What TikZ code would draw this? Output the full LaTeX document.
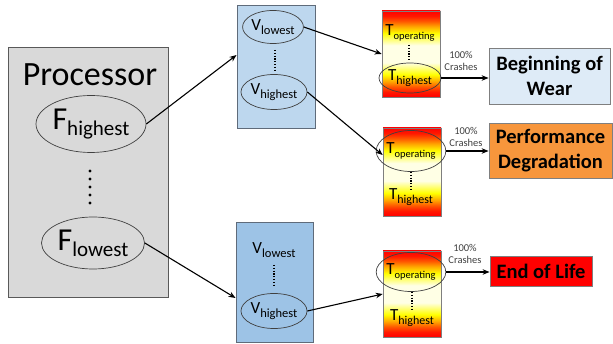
\documentclass[tikz,border=0pt]{standalone}
\usepackage{fontspec}
\setmainfont{Carlito}
\usetikzlibrary{arrows.meta,shapes.geometric}
\definecolor{procfill}{HTML}{D9D9D9}
\definecolor{procline}{HTML}{595959}
\definecolor{blueA}{HTML}{BDD7EE}
\definecolor{blueB}{HTML}{9DC3E6}
\definecolor{blueline}{HTML}{5F6B7A}
\definecolor{wearfill}{HTML}{DEEBF7}
\definecolor{perffill}{HTML}{F7963C}
\definecolor{boxline}{HTML}{7F7F7F}
\definecolor{lblgray}{HTML}{404040}
\pgfdeclareverticalshading{heat}{100bp}{color(0bp)=(red); color(25bp)=(red); color(28bp)=(red!90!yellow); color(31bp)=(red!65!yellow); color(34bp)=(red!35!yellow); color(38bp)=(yellow); color(45bp)=(yellow!10!white); color(55bp)=(yellow!10!white); color(62bp)=(yellow); color(66bp)=(red!35!yellow); color(69bp)=(red!65!yellow); color(72bp)=(red!90!yellow); color(75bp)=(red); color(100bp)=(red)}
\newcommand\sym[5]{{\fontsize{#1}{#1}\selectfont #2}\raisebox{-#5}{\fontsize{#3}{#3}\selectfont #4}}
\tikzset{
  box/.style={draw, inner sep=0pt},
  procbox/.style={box, fill=procfill, draw=procline, line width=1pt},
  bluebox/.style={box, draw=blueline, line width=0.9pt},
  heatbox/.style={box, draw=boxline, line width=0.6pt, shading=heat},
  ell/.style={ellipse, draw=lblgray, line width=0.7pt, inner sep=0pt},
  plain/.style={inner sep=0pt},
  result/.style={box, draw=boxline, line width=0.8pt, align=center, font=\fontsize{20.5}{25}\selectfont\bfseries},
  crash/.style={plain, align=center, text=lblgray, font=\fontsize{10.5}{12.5}\selectfont},
  arr/.style={-{Stealth[length=7pt,width=5.5pt]}, line width=1.1pt, black},
  vdots/.style={line width=1.3pt, dash pattern=on 1.3pt off 1.5pt, line cap=butt}
}
\begin{document}
\begin{tikzpicture}[x=1pt,y=-1pt]
\useasboundingbox (0,0) rectangle (613,344);
% processor
\node[procbox, minimum width=160pt, minimum height=250pt] (proc) at (88,173) {};
\node[plain, font=\fontsize{34}{34}\selectfont] (ptxt) at (90,75) {Processor};
\node[ell, minimum width=110pt, minimum height=57pt] (fh) at (91,124) {\sym{32}{F}{21}{highest}{6pt}};
\node[ell, minimum width=103pt, minimum height=52pt] (fl) at (93,243) {\sym{32}{F}{21}{lowest}{6pt}};
\foreach \yy in {171,179,187,195,203} \fill (90,\yy) circle (1.7);
% blue boxes
\node[bluebox, fill=blueA, minimum width=78pt, minimum height=123pt] (bb1) at (276,66.5) {};
\node[ell, minimum width=57pt, minimum height=33pt] (vl1) at (273,27) {\sym{17}{V}{12.5}{lowest}{4pt}};
\node[ell, minimum width=58pt, minimum height=35pt] (vh1) at (274,92) {\sym{17}{V}{12.5}{highest}{4pt}};
\draw[vdots] (275,50) -- (275,71);
\node[bluebox, fill=blueB, minimum width=77pt, minimum height=120pt] (bb2) at (274.5,282) {};
\node[plain] (vl2) at (274,250) {\sym{17}{V}{12.5}{lowest}{4pt}};
\node[ell, minimum width=66pt, minimum height=35pt] (vh2) at (274,311) {\sym{17}{V}{12.5}{highest}{4pt}};
\draw[vdots] (274,265) -- (274,286);
% heat boxes
\node[heatbox, minimum width=58pt, minimum height=86pt] (tb1) at (411,54) {};
\node[plain] (to1) at (410,33) {\sym{17}{T}{10.5}{operating}{4pt}};
\draw[vdots] (409,45) -- (409,61);
\node[ell, minimum width=46pt, minimum height=30pt] (th1) at (410,78) {\sym{17}{T}{12}{highest}{4pt}};
\node[heatbox, minimum width=58pt, minimum height=88pt] (tb2) at (412,172) {};
\node[ell, minimum width=54pt, minimum height=41pt] (to2) at (411,151) {\sym{17}{T}{10.5}{operating}{4pt}};
\draw[vdots] (411,172) -- (411,189);
\node[plain] (th2) at (411,197) {\sym{17}{T}{12}{highest}{4pt}};
\node[heatbox, minimum width=58pt, minimum height=86pt] (tb3) at (412,294) {};
\node[ell, minimum width=55pt, minimum height=39pt] (to3) at (411,272) {\sym{17}{T}{10.5}{operating}{4pt}};
\draw[vdots] (412,292) -- (412,310);
\node[plain] (th3) at (412,318) {\sym{17}{T}{12}{highest}{4pt}};
% results
\node[result, fill=wearfill, minimum width=121pt, minimum height=56pt] (bw) at (549.5,76) {Beginning of\\Wear};
\node[result, fill=perffill, minimum width=123pt, minimum height=55pt] (pd) at (550.5,150.5) {Performance\\Degradation};
\node[result, fill=red, minimum width=102pt, minimum height=30pt] (eol) at (541,271) {End of Life};
% crash labels
\node[crash] (c1) at (461,61) {100\%\\Crashes};
\node[crash] (c2) at (466,137) {100\%\\Crashes};
\node[crash] (c3) at (465,254) {100\%\\Crashes};
% arrows
\draw[arr] (fh.east) -- ([yshift=11.5pt]bb1.west);
\draw[arr] (fl.east) -- ([yshift=-16pt]bb2.west);
\draw[arr] (vl1.east) -- (tb1.west);
\draw[arr] (vh1.east) -- ([yshift=17pt]tb2.west);
\draw[arr] (vh2.east) -- (tb3.west);
\draw[arr] (th1.east) -- (th1.east -| bw.west);
\draw[arr] (to2.east) -- (to2.east -| pd.west);
\draw[arr] (to3.east) -- (to3.east -| eol.west);
\end{tikzpicture}
\end{document}
